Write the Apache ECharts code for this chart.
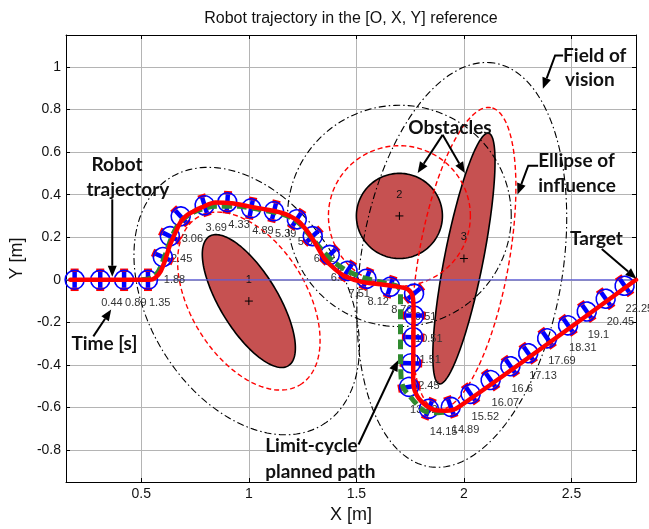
<!DOCTYPE html>
<html>
<head>
<meta charset="utf-8">
<title>Robot trajectory</title>
<script src="https://cdn.jsdelivr.net/npm/echarts@6/dist/echarts.min.js"></script>
<style>
    html, body { margin: 0; padding: 0; background: #fff; }
    #chart { width: 649px; height: 529px; }
</style>
</head>
<body>
<div id="chart"></div>
<script>
    // axis ticks
    var xTicks = [0.5, 1, 1.5, 2, 2.5];
    var yTicks = [-0.8, -0.6, -0.4, -0.2, 0, 0.2, 0.4, 0.6, 0.8, 1];

    // robot poses (x, y in m, heading in deg) and time stamps
    var robotX = [0.19, 0.309, 0.42, 0.531, 0.600, 0.633, 0.683, 0.794, 0.900, 1.011, 1.117, 1.223, 1.297, 1.376, 1.459, 1.547, 1.657,
                  1.768, 1.768, 1.764, 1.754, 1.745, 1.837, 1.939, 2.031, 2.124, 2.216, 2.299, 2.387, 2.484, 2.571, 2.659, 2.747];
    var robotY = [0, 0, 0, 0, 0.107, 0.205, 0.298, 0.350, 0.364, 0.336, 0.322, 0.284, 0.205, 0.117, 0.042, 0.005, -0.033,
                  -0.065, -0.168, -0.270, -0.392, -0.503, -0.606, -0.597, -0.536, -0.471, -0.406, -0.345, -0.275, -0.214, -0.149, -0.089, -0.028];
    var robotHeading = [0, 0, 0, 0, 66, 64, 42, 17, -4, -11, -14, -33, -47, -45, -33, -21, -18,
                        -50, -90, -91, -92, -80, -22, 20, 35, 35, 35, 35, 35, 35, 35, 35, 35];
    var robotTime = ['', '0.44', '0.89', '1.35', '1.88', '2.45', '3.06', '3.69', '4.33', '4.89', '5.39', '5.9', '6.42', '6.94', '7.51', '8.12', '8.76',
                     '9.51', '10.51', '11.51', '12.45', '13.32', '14.15', '14.89', '15.52', '16.07', '16.6', '17.13', '17.69', '18.31', '19.1', '20.45', '22.25'];

    // executed trajectory (red)
    var trajX = [0.17, 0.54, 0.565, 0.59, 0.61, 0.632, 0.66, 0.685, 0.715, 0.74, 0.78, 0.845, 0.92, 1.0, 1.08, 1.15, 1.19, 1.23, 1.27, 1.31,
                 1.353, 1.40, 1.45, 1.524, 1.60, 1.694, 1.74, 1.762, 1.766, 1.765, 1.764, 1.768, 1.782, 1.80, 1.83, 1.861, 1.916, 1.971, 2.8];
    var trajY = [0, 0, 0.01, 0.04, 0.09, 0.16, 0.225, 0.275, 0.305, 0.32, 0.34, 0.363, 0.36, 0.345, 0.33, 0.315, 0.3, 0.275, 0.23, 0.17,
                 0.098, 0.05, 0.015, -0.01, -0.02, -0.033, -0.045, -0.08, -0.15, -0.3, -0.45, -0.51, -0.545, -0.569, -0.595, -0.611, -0.615, -0.601, 0];

    // limit-cycle planned path (green)
    var planX = [0.5, 0.55, 0.58, 0.605, 0.63, 0.66, 0.70, 0.76, 0.85, 0.95, 1.05, 1.15, 1.2, 1.24, 1.29, 1.34, 1.40, 1.47, 1.55, 1.63, 1.69,
                 1.705, 1.705, 1.708, 1.72, 1.755, 1.814, 1.879, 1.93];
    var planY = [0, 0.01, 0.04, 0.1, 0.17, 0.24, 0.29, 0.325, 0.345, 0.345, 0.33, 0.31, 0.29, 0.26, 0.2, 0.14, 0.08, 0.035, 0.005, -0.015, -0.03,
                 -0.06, -0.3, -0.462, -0.51, -0.555, -0.615, -0.625, -0.62];

    // reference line from start to target
    var baseX = [0.15, 2.8];
    var baseY = [0, 0];

    // obstacles: centre, semi axes, orientation (deg)
    var obsCx = [1.0, 1.7, 2.0];
    var obsCy = [-0.1, 0.3, 0.1];
    var obsA = [0.355, 0.2, 0.6];
    var obsB = [0.135, 0.2, 0.09];
    var obsAngle = [-59, 0, 79];
    var obsName = ['1', '2', '3'];

    // ellipses of influence
    var inflA = [0.46, 0.33, 0.72];
    var inflB = [0.27, 0.33, 0.21];
    var inflAngle = [-59, 0, 80];

    // fields of vision
    var visCx = [0.99, 1.7, 1.99];
    var visCy = [-0.1, 0.3, 0.07];
    var visA = [0.68, 0.52, 0.96];
    var visB = [0.455, 0.52, 0.47];
    var visAngle = [-59, 0, 81];

    // annotations (left edge x, centre y)
    var noteText = ['Robot', 'trajectory', 'Time [s]', 'Obstacles', 'Field of', 'vision', 'Ellipse of', 'influence', 'Target', 'Limit-cycle', 'planned path'];
    var noteX = [0.268, 0.245, 0.175, 1.741, 2.461, 2.47, 2.345, 2.345, 2.493, 1.076, 1.076];
    var noteY = [0.541, 0.424, -0.303, 0.713, 1.054, 0.937, 0.557, 0.44, 0.191, -0.779, -0.904];

    // annotation arrows, last point is the tip
    var arrows = [
        [[0.365, 0.378], [0.365, 0.014]],
        [[0.277, -0.266], [0.36, -0.14]],
        [[1.901, 0.681], [1.785, 0.502]],
        [[1.901, 0.681], [2.004, 0.502]],
        [[2.461, 1.054], [2.424, 1.054], [2.367, 0.898]],
        [[2.345, 0.536], [2.299, 0.536], [2.249, 0.401]],
        [[2.641, 0.145], [2.802, 0.005]],
        [[1.51, -0.774], [1.694, -0.378]]
    ];

    var chart = echarts.init(document.getElementById('chart'));

    /* points of a rotated ellipse, mapped through the axes */
    function ellipsePoints(api, cx, cy, a, b, deg) {
        var r = deg * Math.PI / 180, pts = [];
        for (var k = 0; k < 160; k++) {
            var t = 2 * Math.PI * k / 160;
            var ex = a * Math.cos(t), ey = b * Math.sin(t);
            pts.push(api.coord([cx + ex * Math.cos(r) - ey * Math.sin(r), cy + ex * Math.sin(r) + ey * Math.cos(r)]));
        }
        return pts;
    }

    function ellipseSeries(name, cx, cy, a, b, ang, style, z) {
        return {
            name: name, type: 'custom', z: z, silent: true,
            data: cx.map(function (v, i) { return [v, cy[i], a[i], b[i], ang[i]]; }),
            encode: { x: 0, y: 1 },
            renderItem: function (params, api) {
                return {
                    type: 'polygon',
                    shape: { points: ellipsePoints(api, api.value(0), api.value(1), api.value(2), api.value(3), api.value(4)) },
                    style: style
                };
            }
        };
    }

    function pairs(xs, ys) {
        return xs.map(function (v, i) { return [v, ys[i]]; });
    }

    var font = 'Liberation Sans, Arial, sans-serif';
    var noteFont = 'Lato, Open Sans, sans-serif';

    var option = {
        animation: false,
        title: {
            text: 'Robot trajectory in the [O, X, Y] reference',
            left: 346, top: 6, textAlign: 'center',
            textStyle: { fontSize: 16, fontWeight: 'normal', color: '#111', fontFamily: font }
        },
        grid: { left: 64, top: 35, right: 13, bottom: 44 },
        xAxis: [{
            type: 'value', min: 0.15, max: 2.8, position: 'bottom',
            name: 'X [m]', nameLocation: 'middle', nameGap: 24,
            nameTextStyle: { fontSize: 18, color: '#111', fontFamily: font },
            axisLine: { onZero: false, lineStyle: { color: '#000', width: 1 } },
            axisTick: { inside: true, length: 4, customValues: xTicks, lineStyle: { color: '#000' } },
            axisLabel: { customValues: xTicks, fontSize: 14, color: '#111', margin: 5, fontFamily: font },
            splitLine: { show: true, lineStyle: { color: '#b4b4b4', width: 1 } }
        }, {
            type: 'value', min: 0.15, max: 2.8, position: 'top',
            axisLine: { onZero: false, lineStyle: { color: '#000', width: 1 } },
            axisTick: { inside: true, length: 4, customValues: xTicks, lineStyle: { color: '#000' } },
            axisLabel: { show: false },
            splitLine: { show: false }
        }],
        yAxis: [{
            type: 'value', min: -0.95, max: 1.15, position: 'left',
            name: 'Y [m]', nameLocation: 'middle', nameGap: 38,
            nameTextStyle: { fontSize: 18, color: '#111', fontFamily: font },
            axisLine: { onZero: false, lineStyle: { color: '#000', width: 1 } },
            axisTick: { inside: true, length: 4, customValues: yTicks, lineStyle: { color: '#000' } },
            axisLabel: { customValues: yTicks, fontSize: 14, color: '#111', margin: 5, fontFamily: font },
            splitLine: { show: true, lineStyle: { color: '#b4b4b4', width: 1 } }
        }, {
            type: 'value', min: -0.95, max: 1.15, position: 'right',
            axisLine: { onZero: false, lineStyle: { color: '#000', width: 1 } },
            axisTick: { inside: true, length: 4, customValues: yTicks, lineStyle: { color: '#000' } },
            axisLabel: { show: false },
            splitLine: { show: false }
        }],
        series: [
            ellipseSeries('obstacles', obsCx, obsCy, obsA, obsB, obsAngle,
                { fill: '#c65151', stroke: '#000', lineWidth: 1.6 }, 1),
            ellipseSeries('influence', obsCx, obsCy, inflA, inflB, inflAngle,
                { fill: 'none', stroke: '#ff0000', lineWidth: 1.4, lineDash: [5, 3] }, 2),
            ellipseSeries('vision', visCx, visCy, visA, visB, visAngle,
                { fill: 'none', stroke: '#000', lineWidth: 1.1, lineDash: [7, 3, 1.5, 3] }, 2),
            {
                // obstacle centres and numbers
                name: 'obstacle marks', type: 'custom', z: 3, silent: true,
                data: pairs(obsCx, obsCy),
                encode: { x: 0, y: 1 },
                renderItem: function (params, api) {
                    var c = api.coord([api.value(0), api.value(1)]);
                    var t = api.coord([api.value(0), api.value(1) + 0.1]);
                    return {
                        type: 'group', children: [
                            { type: 'line', shape: { x1: c[0] - 4, y1: c[1], x2: c[0] + 4, y2: c[1] }, style: { stroke: '#000', lineWidth: 1 } },
                            { type: 'line', shape: { x1: c[0], y1: c[1] - 4, x2: c[0], y2: c[1] + 4 }, style: { stroke: '#000', lineWidth: 1 } },
                            { type: 'text', x: t[0], y: t[1], style: { text: obsName[params.dataIndex], fontSize: 11, fontFamily: font, fill: '#111', align: 'center', verticalAlign: 'middle' } }
                        ]
                    };
                }
            },
            {
                name: 'reference', type: 'line', z: 4, silent: true,
                data: pairs(baseX, baseY), showSymbol: false,
                lineStyle: { color: '#5c5cd6', width: 1.2 }
            },
            {
                // time stamps
                name: 'time', type: 'custom', z: 5, silent: true,
                data: pairs(robotX, robotY),
                encode: { x: 0, y: 1 },
                renderItem: function (params, api) {
                    var p = api.coord([api.value(0), api.value(1)]);
                    return {
                        type: 'text', x: p[0] + 1, y: p[1] + 23,
                        style: { text: robotTime[params.dataIndex], fontSize: 11, fontFamily: font, fill: '#333', align: 'left', verticalAlign: 'middle' }
                    };
                }
            },
            {
                name: 'robots', type: 'custom', z: 6, silent: true,
                data: robotX.map(function (v, i) { return [v, robotY[i], robotHeading[i]]; }),
                encode: { x: 0, y: 1 },
                renderItem: function (params, api) {
                    var p = api.coord([api.value(0), api.value(1)]);
                    return {
                        type: 'group', x: p[0], y: p[1], rotation: api.value(2) * Math.PI / 180,
                        children: [
                            { type: 'line', shape: { x1: -4, y1: -9.5, x2: 4, y2: -9.5 }, style: { stroke: '#ff0000', lineWidth: 3.5 } },
                            { type: 'line', shape: { x1: -4, y1: 9.5, x2: 4, y2: 9.5 }, style: { stroke: '#ff0000', lineWidth: 3.5 } },
                            { type: 'circle', shape: { cx: 0, cy: 0, r: 9.5 }, style: { fill: 'none', stroke: '#0000ff', lineWidth: 1.6 } },
                            { type: 'line', shape: { x1: 0, y1: -8, x2: 0, y2: 8 }, style: { stroke: '#0000ff', lineWidth: 4.5 } }
                        ]
                    };
                }
            },
            {
                name: 'planned', type: 'line', z: 7, silent: true,
                data: pairs(planX, planY), showSymbol: false, smooth: 0.3,
                lineStyle: { color: '#2f8a2f', width: 5, type: [10, 5] }
            },
            {
                name: 'trajectory', type: 'line', z: 8, silent: true,
                data: pairs(trajX, trajY), showSymbol: false, smooth: 0.3,
                lineStyle: { color: '#ff0000', width: 4.5, cap: 'round', join: 'round' }
            },
            {
                name: 'arrows', type: 'custom', z: 9, silent: true,
                data: arrows.map(function (a, i) { return [a[0][0], a[0][1], i]; }),
                encode: { x: 0, y: 1 },
                renderItem: function (params, api) {
                    var pts = arrows[params.dataIndex].map(function (q) { return api.coord(q); });
                    var tip = pts[pts.length - 1], prev = pts[pts.length - 2];
                    var dx = tip[0] - prev[0], dy = tip[1] - prev[1];
                    var len = Math.sqrt(dx * dx + dy * dy), ux = dx / len, uy = dy / len;
                    var hl = 11, hw = 4.5;
                    var base = [tip[0] - ux * hl, tip[1] - uy * hl];
                    var line = pts.slice(0, pts.length - 1).concat([base]);
                    return {
                        type: 'group', children: [
                            { type: 'polyline', shape: { points: line }, style: { stroke: '#000', lineWidth: 2, fill: 'none' } },
                            {
                                type: 'polygon',
                                shape: { points: [tip, [base[0] - uy * hw, base[1] + ux * hw], [base[0] + uy * hw, base[1] - ux * hw]] },
                                style: { fill: '#000' }
                            }
                        ]
                    };
                }
            },
            {
                name: 'notes', type: 'custom', z: 10, silent: true,
                data: pairs(noteX, noteY),
                encode: { x: 0, y: 1 },
                renderItem: function (params, api) {
                    var p = api.coord([api.value(0), api.value(1)]);
                    return {
                        type: 'text', x: p[0], y: p[1],
                        style: { text: noteText[params.dataIndex], fontSize: 19, fontWeight: 'bold', fontFamily: noteFont, fill: '#111', align: 'left', verticalAlign: 'middle' }
                    };
                }
            }
        ]
    };
    chart.setOption(option);
</script>
</body>
</html>
